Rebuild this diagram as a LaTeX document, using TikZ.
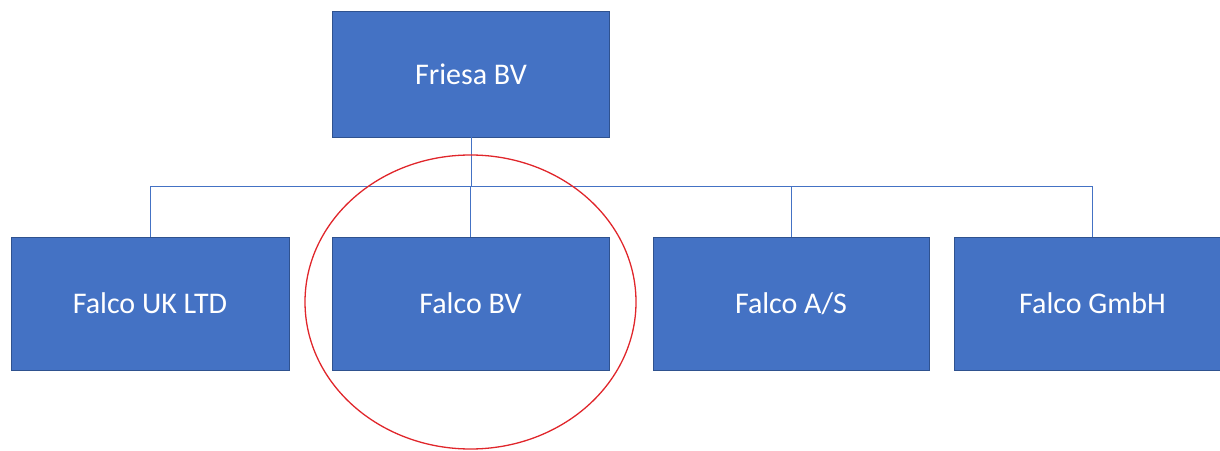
\documentclass[tikz,border=0pt]{standalone}
\usepackage{fontspec}
\setmainfont{Carlito}
\usetikzlibrary{positioning,calc}
\definecolor{boxblue}{HTML}{4472C4}
\definecolor{edgeblue}{HTML}{2F528F}
\definecolor{ringred}{HTML}{E0262B}

\begin{document}
\begin{tikzpicture}
            [
            x=1pt, y=1pt,
            company/.style={rectangle, draw=edgeblue, line width=0.6pt, fill=boxblue,
                minimum width=277pt, minimum height=133pt, inner sep=0pt, outer sep=0pt,
                text=white, font=\fontsize{30}{36}\selectfont},
            link/.style={draw=boxblue, line width=1pt},
            ring/.style={draw=ringred, line width=1.3pt}
            ]

            \clip (0,0) rectangle (1220,450);

            \node (friesa) [company, minimum height=126pt] at (471,376) {Friesa BV};

            % Subsidiaries
            \node (ukltd) [company, minimum width=278pt] at (150,146.5) {Falco UK LTD};
            \node (falcobv) [company, right=43pt of ukltd] {Falco BV};
            \node (falcoas) [company, minimum width=276pt, right=44pt of falcobv] {Falco A/S};
            \node (gmbh) [company, right=25pt of falcoas] {Falco GmbH};

            \coordinate (bus) at (471,263);

            \draw [link] (friesa.south) -- (bus);
            \foreach \n in {ukltd, falcobv, falcoas, gmbh}{
                \draw [link] (bus) -| (\n.north);
            }

            \draw [ring] ([yshift=1.5pt]falcobv.center) ellipse (165.5pt and 147pt);

        \end{tikzpicture}
\end{document}
